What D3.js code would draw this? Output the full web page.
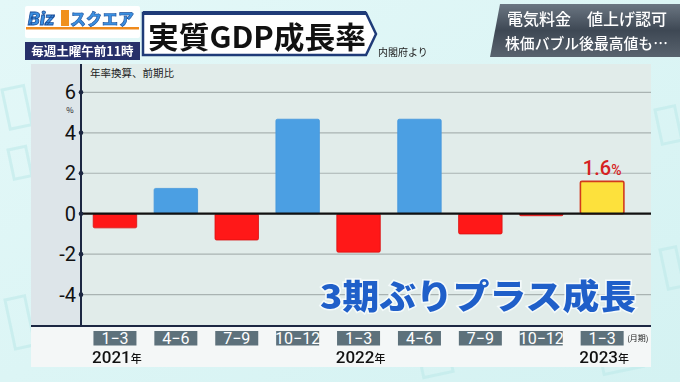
<!DOCTYPE html>
<html><head><meta charset="utf-8">
<script src="https://cdn.jsdelivr.net/npm/d3@7"></script>
<style>
html,body{margin:0;padding:0;background:#dff5f5;}
svg{display:block;font-family:"Noto Sans CJK JP","Noto Sans",sans-serif;}
</style></head>
<body>
<svg id="c" width="680" height="382"></svg>
<script>
const categories = ["1-3","4-6","7-9","10-12","1-3","4-6","7-9","10-12","1-3"];
const values = [-0.7, 1.25, -1.3, 4.67, -1.9, 4.67, -1.0, -0.1, 1.6];
const years = [{label:"2021", idx:0},{label:"2022", idx:4},{label:"2023", idx:8}];
const yTicks = [-4,-2,0,2,4,6];
const highlightIndex = 8;

const svg = d3.select("#c");

// background
const defs = svg.append("defs");
const bg = defs.append("linearGradient").attr("id","bg").attr("x1",0).attr("y1",0).attr("x2",1).attr("y2",1);
bg.append("stop").attr("offset","0%").attr("stop-color","#e4f8f8");
bg.append("stop").attr("offset","100%").attr("stop-color","#d4f2f2");
svg.append("rect").attr("width",680).attr("height",382).attr("fill","url(#bg)");
const deco = svg.append("g").attr("fill","none").attr("stroke","#bfeaea").attr("stroke-width",3).attr("opacity",0.6);
[[2,90,22,40],[8,150,18,30],[655,110,20,35],[660,250,16,40],[5,300,20,50],[600,355,40,20],[420,360,30,18]].forEach(d=>{
  deco.append("rect").attr("x",d[0]).attr("y",d[1]).attr("width",d[2]).attr("height",d[3]).attr("transform",`rotate(-12 ${d[0]} ${d[1]})`);
});

// panel
svg.append("rect").attr("x",31).attr("y",64).attr("width",620).attr("height",303).attr("fill","#f4f7f7");
svg.append("rect").attr("x",31).attr("y",64).attr("width",50).attr("height",262).attr("fill","#dde5e9");
svg.append("rect").attr("x",81).attr("y",64).attr("width",570).attr("height",262).attr("fill","#e1ecea");

const x = d3.scaleBand().domain(d3.range(categories.length)).range([84.5,632.6]).paddingInner(0.286).paddingOuter(0.143);
const y = d3.scaleLinear().domain([-5.6,7.4]).range([327,64]);

// gridlines
svg.append("g").selectAll("line").data(yTicks.filter(t=>t!==0)).join("line")
  .attr("x1",81).attr("x2",651).attr("y1",d=>y(d)).attr("y2",d=>y(d))
  .attr("stroke","#a9b3b2").attr("stroke-width",1.2);

// bars
svg.append("g").selectAll("rect").data(values).join("rect")
  .attr("x",(d,i)=>x(i)).attr("width",x.bandwidth())
  .attr("y",d=>y(Math.max(0,d))).attr("height",d=>Math.abs(y(d)-y(0)))
  .attr("rx",1.5)
  .attr("fill",(d,i)=> i===highlightIndex ? "#fde13c" : (d>=0 ? "#4b9fe3" : "#ff1818"))
  .attr("stroke",(d,i)=> i===highlightIndex ? "#d23a1c" : (d>=0 ? "#4597dc" : "#d81010"))
  .attr("stroke-width",(d,i)=> i===highlightIndex ? 1.6 : 0.8);

// zero line
svg.append("line").attr("x1",81).attr("x2",651).attr("y1",y(0)).attr("y2",y(0)).attr("stroke","#111").attr("stroke-width",2.2);
svg.append("line").attr("x1",81).attr("x2",81).attr("y1",64).attr("y2",326).attr("stroke","#1c2742").attr("stroke-width",2);
svg.append("line").attr("x1",31).attr("x2",651).attr("y1",326).attr("y2",326).attr("stroke","#1c2742").attr("stroke-width",2);

// y ticks
const yt = svg.append("g");
yt.selectAll("circle").data(yTicks).join("circle").attr("cx",81).attr("cy",d=>y(d)).attr("r",2.3).attr("fill","#1c2742");
yt.selectAll("text").data(yTicks).join("text")
  .attr("x",76).attr("y",d=>y(d)+7).attr("text-anchor","end")
  .attr("font-family","Roboto, 'Noto Sans', sans-serif").attr("font-size",20).attr("fill","#111")
  .text(d=>d<0 ? "-"+Math.abs(d) : d);
svg.append("text").attr("x",70).attr("y",y(6)+21).attr("text-anchor","middle").attr("font-size",8).attr("fill","#222").text("%");
svg.append("text").attr("x",90).attr("y",77).attr("font-size",10.5).attr("fill","#222").text("年率換算、前期比");

// highlight label
svg.append("text").attr("x",x(highlightIndex)+x.bandwidth()/2).attr("y",y(values[highlightIndex])-6)
  .attr("text-anchor","middle").attr("fill","#d62222").attr("font-family","Roboto, 'Noto Sans', sans-serif")
  .attr("font-size",20).attr("font-weight",500)
  .html(values[highlightIndex].toFixed(1)+'<tspan font-size="14">%</tspan>');

// category boxes
const cat = svg.append("g").selectAll("g").data(categories).join("g")
  .attr("transform",(d,i)=>`translate(${x(i)+x.bandwidth()/2},0)`);
cat.append("rect").attr("x",-21.5).attr("y",331).attr("width",43).attr("height",14.5).attr("fill","#5d717b");
cat.append("text").attr("y",344).attr("text-anchor","middle").attr("fill","#fff")
  .attr("font-family","Roboto, 'Noto Sans', sans-serif").attr("font-size",16)
  .text(d=>d.replace("-","−"));
svg.append("text").attr("x",x(8)+x.bandwidth()/2+25).attr("y",341).attr("font-size",8).attr("fill","#222").text("(月期)");

// years
years.forEach(yr=>{
  const cx = x(yr.idx)+x.bandwidth()/2;
  svg.append("text").attr("x",cx+2).attr("y",363).attr("text-anchor","middle").attr("fill","#111")
    .attr("font-family","Roboto, 'Noto Sans', sans-serif").attr("font-size",17).attr("font-weight",500)
    .html(yr.label+'<tspan font-size="11" font-family="Noto Sans CJK JP">年</tspan>');
});

// caption
svg.append("text").attr("x",320).attr("y",309)
  .attr("font-size",34).attr("font-weight",900).attr("fill","#1f5fc9")
  .attr("stroke","#f4fafa").attr("stroke-width",3).attr("paint-order","stroke")
  .attr("textLength",316).attr("lengthAdjust","spacingAndGlyphs")
  .text("3期ぶりプラス成長");

// ---- header ----
svg.append("rect").attr("x",25).attr("y",6).attr("width",115).attr("height",32).attr("fill","#ffffff").attr("rx",2);
svg.append("rect").attr("x",26).attr("y",27).attr("width",113).attr("height",2.5).attr("fill","#f08a1c");
svg.append("text").attr("x",28).attr("y",25).attr("font-family","Roboto, sans-serif").attr("font-size",19).attr("font-weight",900)
  .attr("font-style","italic").attr("fill","#3b8fe0").attr("stroke","#1d4f9a").attr("stroke-width",0.8).text("Biz");
svg.append("rect").attr("x",61).attr("y",10).attr("width",8).attr("height",16).attr("fill","#f0901c");
svg.append("text").attr("x",70).attr("y",25).attr("font-size",16).attr("font-weight",900)
  .attr("fill","#3b8fe0").attr("stroke","#1d4f9a").attr("stroke-width",0.6).text("スクエア");
svg.append("rect").attr("x",25).attr("y",42).attr("width",115).attr("height",18).attr("fill","#27306a");
svg.append("text").attr("x",82.5).attr("y",56).attr("text-anchor","middle").attr("font-size",12.5).attr("font-weight",700).attr("fill","#fff").text("毎週土曜午前11時");

// title box
svg.append("path").attr("d","M143,13 L366,13 L376,34 L366,55 L143,55 Z").attr("fill","#ffffff").attr("stroke","#1f3b78").attr("stroke-width",2.5);
svg.append("rect").attr("x",143).attr("y",11).attr("width",223).attr("height",4).attr("fill","#1f3b78");
svg.append("text").attr("x",148).attr("y",48).attr("font-size",30).attr("font-weight",700).attr("fill","#111")
  .attr("textLength",218).attr("lengthAdjust","spacingAndGlyphs").text("実質GDP成長率");
svg.append("text").attr("x",378).attr("y",56).attr("font-size",10).attr("fill","#222").text("内閣府より");

// news banner
const bn = defs.append("linearGradient").attr("id","bn").attr("x1",0).attr("y1",0).attr("x2",0).attr("y2",1);
bn.append("stop").attr("offset","0%").attr("stop-color","#6b7682");
bn.append("stop").attr("offset","50%").attr("stop-color","#3e4854");
bn.append("stop").attr("offset","100%").attr("stop-color","#59636e");
svg.append("path").attr("d","M500,4 L680,4 L680,57 L490,57 Z").attr("fill","url(#bn)");
svg.append("text").attr("x",507).attr("y",25).attr("font-size",16).attr("font-weight",500).attr("fill","#fff")
  .attr("textLength",160).attr("lengthAdjust","spacingAndGlyphs").text("電気料金　値上げ認可");
svg.append("text").attr("x",505).attr("y",49).attr("font-size",15).attr("font-weight",500).attr("fill","#fff")
  .attr("textLength",163).attr("lengthAdjust","spacingAndGlyphs").text("株価バブル後最高値も…");
</script>
</body></html>
